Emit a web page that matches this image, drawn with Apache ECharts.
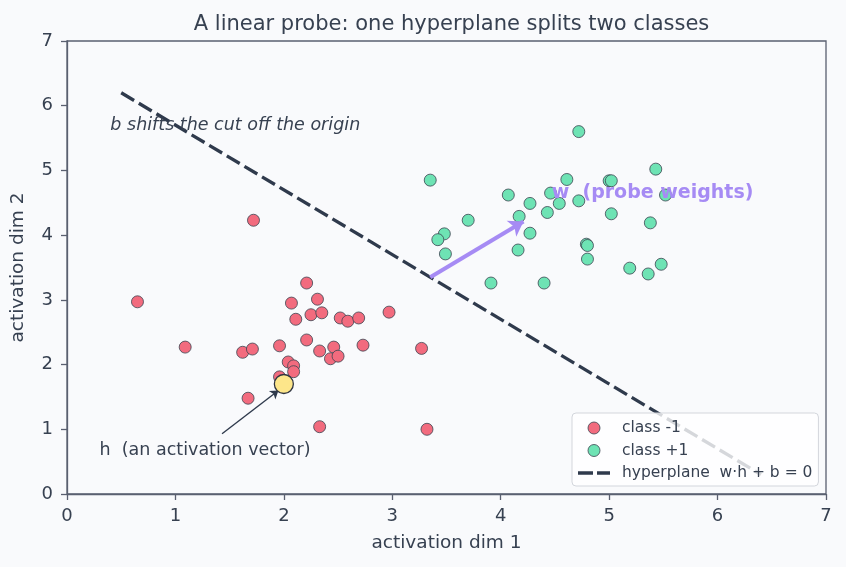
<!DOCTYPE html>
<html>
<head>
<meta charset="utf-8">
<script src="https://cdn.jsdelivr.net/npm/echarts@6/dist/echarts.min.js"></script>
<style>
  html, body { margin: 0; padding: 0; background: #f9fafc; }
  #main { width: 846px; height: 567px; }
</style>
</head>
<body>
<div id="main"></div>
<script>
// class -1 points (activation dim 1, activation dim 2)
var classNeg = [
  [0.65, 2.97], [1.09, 2.27], [1.62, 2.19], [1.71, 2.24], [1.96, 2.29],
  [2.21, 3.26], [2.07, 2.95], [2.31, 3.01], [2.11, 2.70], [2.25, 2.77],
  [2.35, 2.80], [2.52, 2.72], [2.59, 2.67], [2.69, 2.72], [2.97, 2.81],
  [2.21, 2.38], [2.33, 2.21], [2.46, 2.27], [2.43, 2.09], [2.50, 2.13],
  [2.73, 2.30], [3.27, 2.25], [2.04, 2.04], [2.09, 1.98], [2.09, 1.89],
  [1.96, 1.81], [1.67, 1.48], [2.33, 1.04], [3.32, 1.00], [1.72, 4.23]
];
// class +1 points
var classPos = [
  [4.72, 5.60], [3.35, 4.85], [4.61, 4.86], [5.00, 4.84], [5.02, 4.84],
  [5.43, 5.02], [4.07, 4.62], [4.46, 4.65], [5.52, 4.62], [4.27, 4.49],
  [4.54, 4.49], [4.72, 4.53], [4.43, 4.35], [3.70, 4.23], [4.17, 4.29],
  [5.02, 4.33], [5.38, 4.19], [3.48, 4.02], [3.42, 3.93], [4.27, 4.03],
  [3.49, 3.71], [4.16, 3.77], [4.79, 3.86], [4.80, 3.84], [4.80, 3.63],
  [5.19, 3.49], [5.48, 3.55], [5.36, 3.40], [3.91, 3.26], [4.40, 3.26]
];
// hyperplane w·h + b = 0 (end points)
var hyperplane = [[0.5, 6.2], [6.4, 0.3]];
// probe weight vector w
var wArrow = [[3.35, 3.35], [4.21, 4.21]];
// highlighted activation vector h
var hPoint = [[2.0, 1.7]];
var hArrow = [[1.43, 0.93], [1.95, 1.60]];
// text notes
var noteB = [[0.40, 5.69]];
var noteH = [[0.30, 0.68]];
var noteW = [[4.47, 4.65]];

var FONT = '"DejaVu Sans", sans-serif';
var INK = '#374151';
var FRAME = '#5a6070';

var names = {
  neg: 'class -1',
  pos: 'class +1',
  line: 'hyperplane  w\u00b7h + b = 0'
};

var chart = echarts.init(document.getElementById('main'));

var pointStyle = function (color) {
  return { color: color, borderColor: '#3b4450', borderWidth: 0.8, opacity: 1 };
};

// text-only scatter used for the notes inside the plot
var note = function (name, data, text, extra) {
  var label = { show: true, position: 'right', distance: 0, formatter: text,
    fontFamily: FONT, fontSize: 17.5, color: INK, opacity: 1 };
  for (var k in extra) label[k] = extra[k];
  return {
    name: name, type: 'scatter', data: data, symbolSize: 0, silent: true, z: 6,
    itemStyle: { opacity: 1 }, label: label
  };
};

var option = {
  backgroundColor: '#f9fafc',
  animation: false,
  textStyle: { fontFamily: FONT },
  title: {
    text: 'A linear probe: one hyperplane splits two classes',
    left: 446.5,
    textAlign: 'center',
    top: 9,
    textStyle: { fontFamily: FONT, fontSize: 21, fontWeight: 'normal', color: INK }
  },
  grid: {
    left: 67, right: 20, top: 41, bottom: 73,
    show: true, borderColor: FRAME, borderWidth: 1.3, backgroundColor: 'transparent'
  },
  legend: {
    orient: 'vertical',
    left: 572, top: 413,
    padding: [6, 6, 4, 6],
    itemGap: 4.5,
    itemWidth: 32, itemHeight: 12,
    backgroundColor: 'rgba(255,255,255,0.8)',
    borderColor: '#d3d6dc', borderWidth: 1, borderRadius: 4,
    textStyle: { fontFamily: FONT, fontSize: 15.5, color: INK, lineHeight: 18, padding: [0, 0, 0, 7] },
    data: [
      { name: names.neg, icon: 'circle', itemStyle: { borderColor: '#3b4450', borderWidth: 0.8 } },
      { name: names.pos, icon: 'circle', itemStyle: { borderColor: '#3b4450', borderWidth: 0.8 } },
      { name: names.line, icon: 'path://M0,0 L15,0 L15,3.4 L0,3.4 Z M19,0 L32,0 L32,3.4 L19,3.4 Z', itemStyle: { borderWidth: 0 } }
    ]
  },
  xAxis: {
    type: 'value', min: 0, max: 7, interval: 1,
    name: 'activation dim 1', nameLocation: 'middle', nameGap: 40,
    nameTextStyle: { fontFamily: FONT, fontSize: 18.5, color: INK },
    axisLine: { show: true, lineStyle: { color: FRAME, width: 1.3 } },
    axisTick: { show: true, length: 6, lineStyle: { color: FRAME, width: 1.3 } },
    axisLabel: { fontFamily: FONT, fontSize: 18, color: INK, margin: 13 },
    splitLine: { show: false }
  },
  yAxis: {
    type: 'value', min: 0, max: 7, interval: 1,
    name: 'activation dim 2', nameLocation: 'middle', nameGap: 39,
    nameTextStyle: { fontFamily: FONT, fontSize: 18.5, color: INK },
    axisLine: { show: true, lineStyle: { color: FRAME, width: 1.3 } },
    axisTick: { show: true, length: 6, lineStyle: { color: FRAME, width: 1.3 } },
    axisLabel: { fontFamily: FONT, fontSize: 18, color: INK, margin: 14 },
    splitLine: { show: false }
  },
  series: [
    {
      name: names.neg, type: 'scatter', data: classNeg, symbolSize: 12, z: 3,
      itemStyle: pointStyle('#f26b7e')
    },
    {
      name: names.pos, type: 'scatter', data: classPos, symbolSize: 12, z: 3,
      itemStyle: pointStyle('#6ee3b4')
    },
    {
      name: names.line, type: 'line', data: hyperplane, symbol: 'none', z: 2,
      lineStyle: { color: '#2f3a4c', width: 3.3, type: [15, 5.5] },
      itemStyle: { color: '#2f3a4c' }
    },
    {
      name: 'w', type: 'lines', coordinateSystem: 'cartesian2d', z: 4, silent: true,
      symbol: ['none', 'arrow'], symbolSize: [11, 14],
      lineStyle: { color: '#a68bf4', width: 4, opacity: 1 },
      data: [{ coords: wArrow }]
    },
    {
      name: 'h arrow', type: 'lines', coordinateSystem: 'cartesian2d', z: 4, silent: true,
      symbol: ['none', 'arrow'], symbolSize: [7, 8],
      lineStyle: { color: '#2f3a4c', width: 1.4, opacity: 1 },
      data: [{ coords: hArrow }]
    },
    {
      name: 'h', type: 'scatter', data: hPoint, symbolSize: 19, z: 5,
      itemStyle: { color: '#fde68a', borderColor: '#2f3440', borderWidth: 1.3, opacity: 1 }
    },
    note('note b', noteB, 'b shifts the cut off the origin', { fontStyle: 'italic' }),
    note('note h', noteH, 'h  (an activation vector)', {}),
    note('note w', noteW, 'w  (probe weights)', { fontSize: 19, fontWeight: 'bold', color: '#a68bf4' })
  ]
};

chart.setOption(option);
</script>
</body>
</html>
